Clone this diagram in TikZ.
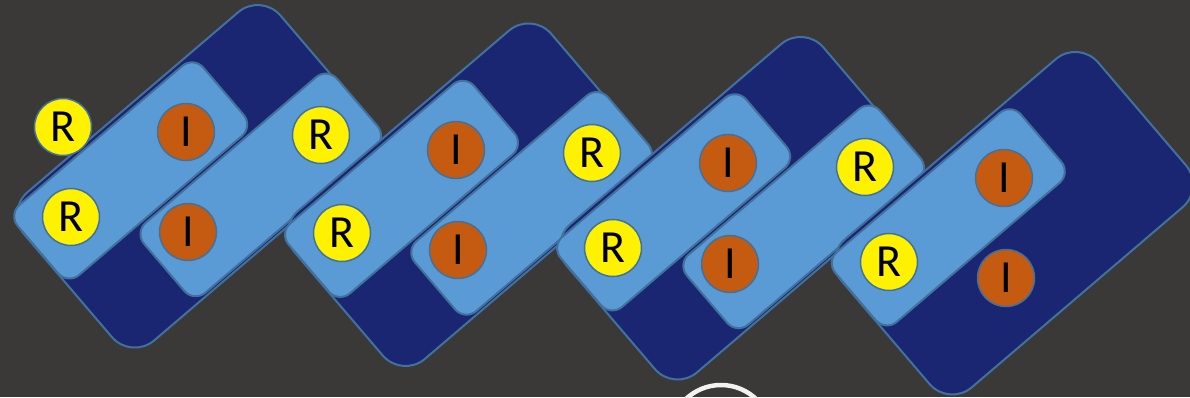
\documentclass[tikz,border=0pt]{standalone}
\usepackage{fontspec}
\setmainfont{Carlito}
\definecolor{bg}{HTML}{3A3938}
\definecolor{navy}{HTML}{1A2672}
\definecolor{lblue}{HTML}{5B9BD5}
\definecolor{edge}{HTML}{41719C}
\definecolor{rust}{HTML}{C55A11}
\definecolor{ringc}{HTML}{F2F2F2}
\begin{document}
\begin{tikzpicture}[x=1pt,y=-1pt,
  darkbox/.style={draw=edge, line width=2pt, fill=navy, rounded corners=30pt,
    minimum width=337pt, minimum height=195pt, inner sep=0pt, transform shape},
  stripa/.style={draw=edge, line width=2pt, fill=lblue, rounded corners=15pt,
    minimum width=244pt, minimum height=92pt, inner sep=0pt, transform shape},
  stripb/.style={stripa, minimum width=254pt},
  rc/.style={circle, draw=edge, line width=1.5pt, fill=yellow, minimum size=57pt,
    inner sep=0pt, font=\fontsize{46}{46}\selectfont},
  ic/.style={rc, fill=rust},
  ring/.style={circle, draw=ringc, line width=4.5pt, minimum size=102pt, inner sep=0pt}
]
\useasboundingbox (0,0) rectangle (1190,397);
\clip (0,0) rectangle (1190,397);
\fill[bg] (0,0) rectangle (1190,397);

% unit 1
\begin{scope}[shift={(196.2,176.3)}, rotate=40.5]
  \node[darkbox] (d1) at (0,0) {};
  \node[stripa] (a1) at (-46,-47) {};
  \node[stripb] (b1) at (43.5,48.5) {};
\end{scope}
\node[rc] (r0) at (63,127) {R};
\node[rc] (r1a) at (71,217) {R};
\node[ic] (i1a) at (186,132) {I};
\node[ic] (i1b) at (188,232) {I};
\node[rc] (r1b) at (321,135) {R};

% unit 2
\begin{scope}[shift={(467,194.7)}, rotate=40.5]
  \node[darkbox] (d2) at (0,0) {};
  \node[stripa] (a2) at (-46,-47) {};
  \node[stripb] (b2) at (43.5,48.5) {};
\end{scope}
\node[rc] (r2a) at (342,233) {R};
\node[ic] (i2a) at (456,150) {I};
\node[ic] (i2b) at (458,250) {I};
\node[rc] (r2b) at (592,153) {R};

% unit 3
\begin{scope}[shift={(739.1,208.2)}, rotate=40.5]
  \node[darkbox] (d3) at (0,0) {};
  \node[stripa] (a3) at (-46,-47) {};
  \node[stripb] (b3) at (43.5,48.5) {};
\end{scope}
\node[rc] (r3a) at (613,248) {R};
\node[ic] (i3a) at (728,163) {I};
\node[ic] (i3b) at (730,264) {I};
\node[rc] (r3b) at (865,167) {R};

% unit 4
\begin{scope}[shift={(1013.8,223.2)}, rotate=40.5]
  \node[darkbox] (d4) at (0,0) {};
  \node[stripa] (a4) at (-46,-47) {};
\end{scope}
\node[rc] (r4a) at (889,262) {R};
\node[ic] (i4a) at (1004,178) {I};
\node[ic] (i4b) at (1006,278) {I};

\node[ring] (ring) at (721,436) {};
\end{tikzpicture}
\end{document}
